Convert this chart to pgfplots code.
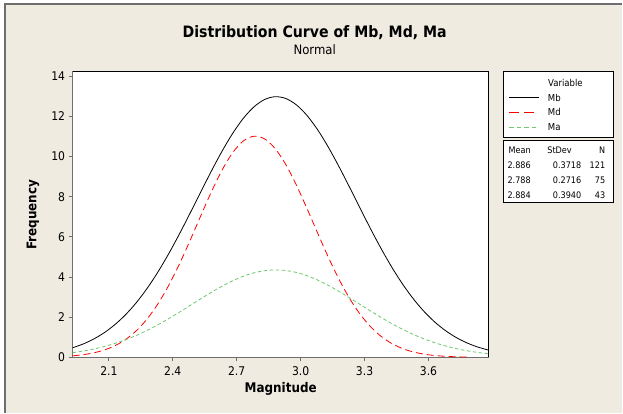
\documentclass[border=0pt]{standalone}
\usepackage{pgfplots}
\pgfplotsset{compat=1.18}
\usepackage{fontspec}
\setmainfont{DejaVu Sans Condensed}
\definecolor{bgc}{RGB}{239,235,225}
\definecolor{framec}{RGB}{110,110,110}
\definecolor{mdred}{RGB}{255,0,0}
\definecolor{magreen}{RGB}{110,200,110}

\begin{document}
\begin{tikzpicture}[x=1pt,y=1pt]
\fill[white] (0,0) rectangle (623,413);
\fill[bgc] (5,0) rectangle (623,409);
\draw[framec,line width=1.3pt] (5,0) -- (5,409) -- (623,409);

\begin{axis}[at={(72.7pt,55.3pt)},anchor=south west,scale only axis,
  width=416.6pt,height=286.2pt,
  xmin=1.93,xmax=3.883,ymin=0,ymax=14.24,
  axis background/.style={fill=white},
  axis x line*=bottom, axis y line*=left,
  axis line style={framec,line width=1pt},
  xtick={2.1,2.4,2.7,3.0,3.3,3.6}, ytick={0,2,4,6,8,10,12,14},
  tick align=outside, major tick length=4pt,
  tick style={framec,line width=0.8pt},
  xticklabel style={/pgf/number format/fixed,/pgf/number format/fixed zerofill,
    /pgf/number format/precision=1,yshift=-2pt},
  /pgf/number format/assume math mode=true,
  ticklabel style={font=\fontsize{12}{14}\selectfont},
  clip=true]
\draw[black,line width=0.8pt] (rel axis cs:0,1) -- (rel axis cs:1,1) -- (rel axis cs:1,0);
\addplot[black,line width=0.8pt,smooth] coordinates {
(1.93,0.476) (1.98,0.667) (2.03,0.917) (2.08,1.238) (2.13,1.643) (2.18,2.140)
(2.23,2.737) (2.28,3.440) (2.33,4.244) (2.38,5.143) (2.43,6.120) (2.48,7.153)
(2.53,8.209) (2.58,9.253) (2.63,10.243) (2.68,11.135) (2.73,11.889) (2.78,12.466)
(2.83,12.837) (2.88,12.981) (2.93,12.893) (2.98,12.575) (3.03,12.045) (3.08,11.331)
(3.13,10.468) (3.18,9.497) (3.23,8.463) (3.28,7.405) (3.33,6.363) (3.38,5.371)
(3.43,4.451) (3.48,3.624) (3.53,2.897) (3.58,2.274) (3.63,1.753) (3.68,1.328)
(3.73,0.987) (3.78,0.721) (3.83,0.517) (3.88,0.364)};
\addplot[mdred,line width=0.8pt,smooth,dash pattern=on 7pt off 4pt] coordinates {
(1.93,0.075) (1.98,0.132) (2.03,0.224) (2.08,0.369) (2.13,0.585) (2.18,0.899)
(2.23,1.335) (2.28,1.916) (2.33,2.658) (2.38,3.565) (2.43,4.621) (2.48,5.791)
(2.53,7.016) (2.58,8.216) (2.63,9.301) (2.68,10.178) (2.73,10.768) (2.78,11.011)
(2.83,10.885) (2.88,10.402) (2.93,9.609) (2.98,8.580) (3.03,7.407) (3.08,6.181)
(3.13,4.986) (3.18,3.888) (3.23,2.930) (3.28,2.135) (3.33,1.504) (3.38,1.024)
(3.43,0.674) (3.48,0.429) (3.53,0.264) (3.58,0.157) (3.63,0.090) (3.68,0.050)
(3.73,0.027) (3.78,0.014)};
\addplot[magreen,line width=0.8pt,smooth,dash pattern=on 3.5pt off 2.5pt] coordinates {
(1.93,0.232) (1.98,0.313) (2.03,0.416) (2.08,0.543) (2.13,0.698) (2.18,0.882)
(2.23,1.098) (2.28,1.344) (2.33,1.620) (2.38,1.921) (2.43,2.242) (2.48,2.574)
(2.53,2.908) (2.58,3.233) (2.63,3.537) (2.68,3.808) (2.73,4.034) (2.78,4.205)
(2.83,4.313) (2.88,4.354) (2.93,4.324) (2.98,4.227) (3.03,4.065) (3.08,3.847)
(3.13,3.583) (3.18,3.283) (3.23,2.961) (3.28,2.627) (3.33,2.294) (3.38,1.971)
(3.43,1.667) (3.48,1.387) (3.53,1.135) (3.58,0.915) (3.63,0.725) (3.68,0.566)
(3.73,0.434) (3.78,0.328) (3.83,0.244) (3.88,0.178)};
\end{axis}

% titles and axis labels
\node[font=\fontsize{15.7}{18}\selectfont\bfseries] at (315,380) {Distribution Curve of Mb, Md, Ma};
\node[font=\fontsize{13}{15}\selectfont] at (315,363) {Normal};
\node[font=\fontsize{13.3}{15}\selectfont\bfseries] at (281,24) {Magnitude};
\node[font=\fontsize{13.3}{15}\selectfont\bfseries,rotate=90] at (33,198) {Frequency};

% legend
\draw[black,fill=white,line width=0.6pt] (504,276) rectangle (614,341.3);
\node[font=\fontsize{9.5}{11}\selectfont] at (566,330.3) {Variable};
\draw[black,line width=0.8pt] (510,315.3) -- (540,315.3);
\draw[mdred,line width=0.8pt,dash pattern=on 10pt off 5pt] (510,300.7) -- (540,300.7);
\draw[magreen,line width=0.8pt,dash pattern=on 4.5pt off 3pt] (510,285.7) -- (540,285.7);
\node[font=\fontsize{9.5}{11}\selectfont,anchor=west] at (545,315.3) {Mb};
\node[font=\fontsize{9.5}{11}\selectfont,anchor=west] at (545,300.7) {Md};
\node[font=\fontsize{9.5}{11}\selectfont,anchor=west] at (545,285.7) {Ma};

\draw[black,fill=white,line width=0.6pt] (504,210) rectangle (614,273);
\begin{scope}[every node/.style={font=\fontsize{9}{10}\selectfont,inner sep=0pt}]
\node[anchor=east] at (531.5,263) {Mean};
\node[anchor=east] at (572.5,263) {StDev};
\node[anchor=east] at (606,263) {N};
\node[anchor=east] at (531.5,248) {2.886};
\node[anchor=east] at (582,248) {0.3718};
\node[anchor=east] at (606,248) {121};
\node[anchor=east] at (531.5,233) {2.788};
\node[anchor=east] at (582,233) {0.2716};
\node[anchor=east] at (606,233) {75};
\node[anchor=east] at (531.5,218) {2.884};
\node[anchor=east] at (582,218) {0.3940};
\node[anchor=east] at (606,218) {43};
\end{scope}
\end{tikzpicture}
\end{document}
